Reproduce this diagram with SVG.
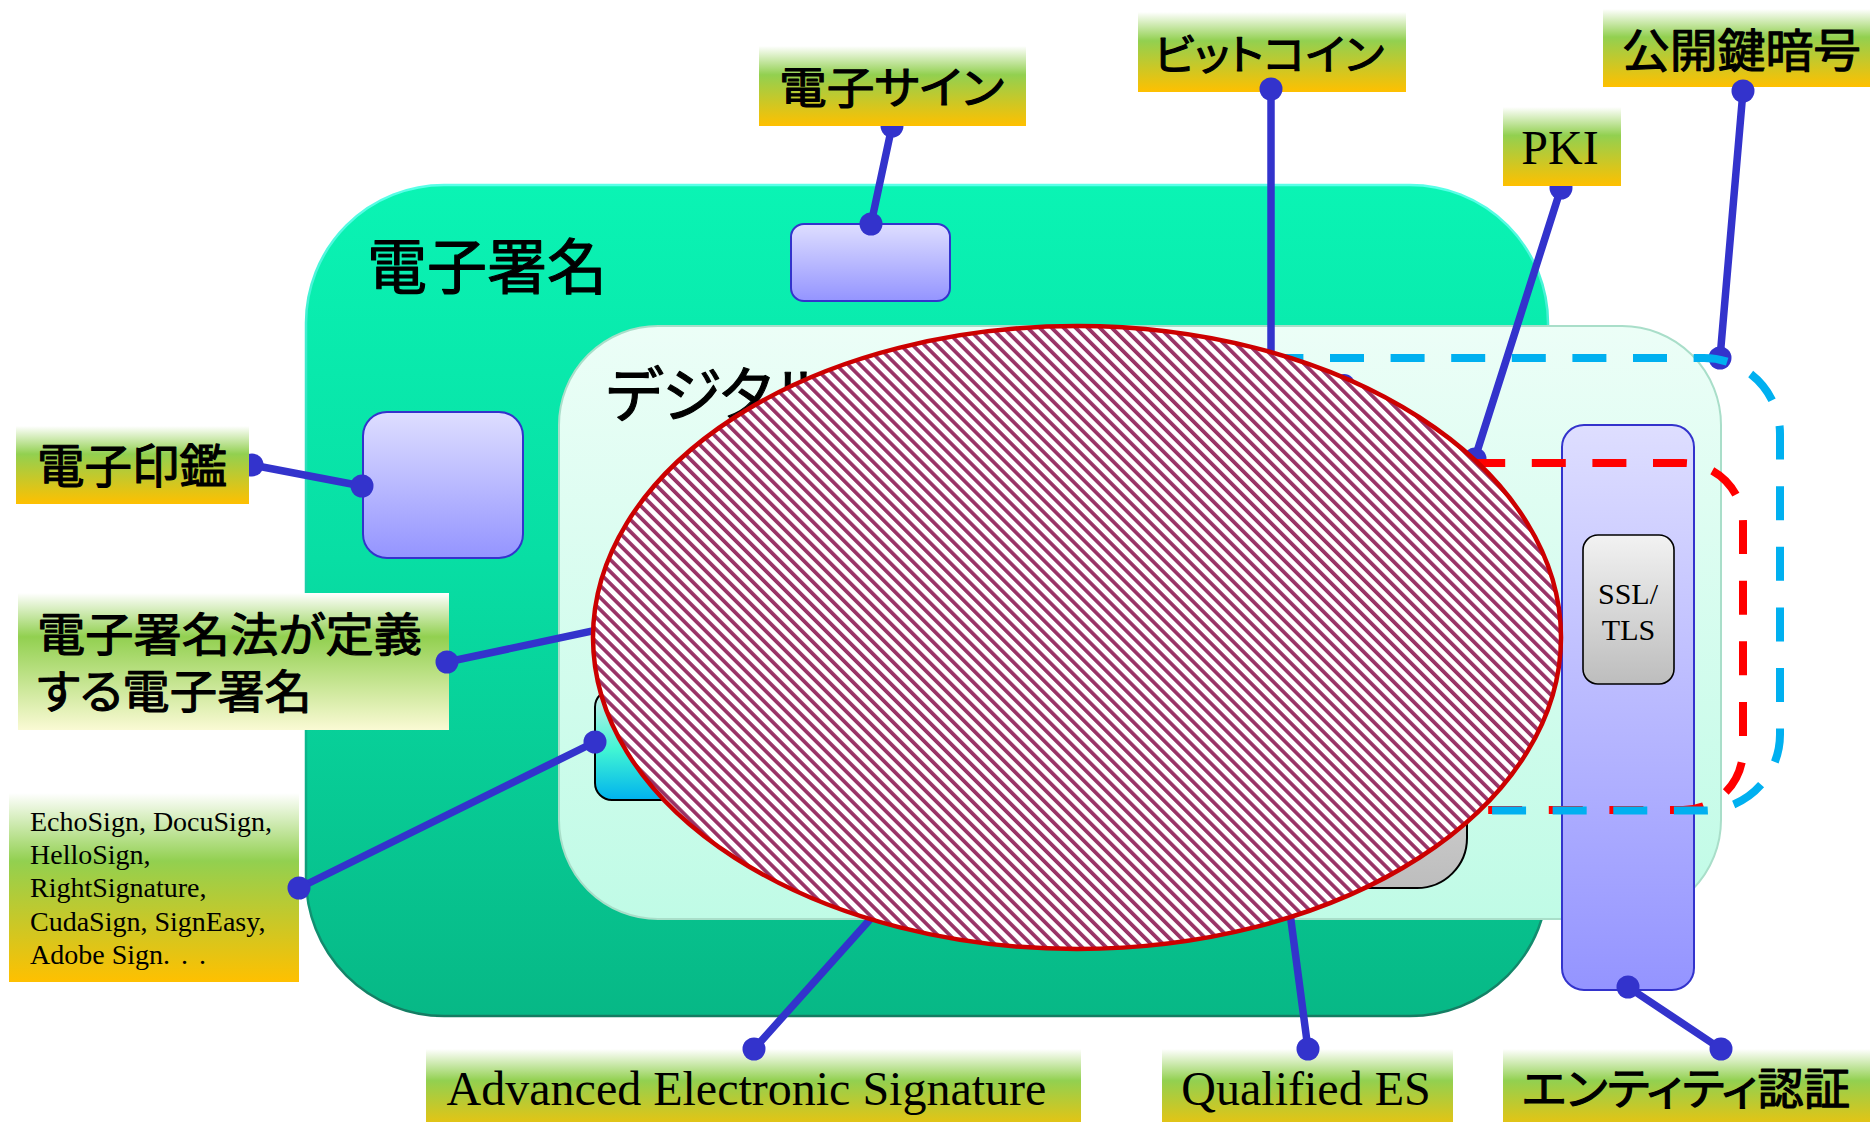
<svg xmlns="http://www.w3.org/2000/svg" width="1870" height="1122" viewBox="0 0 1870 1122">
<defs>
  <linearGradient id="gGreen" x1="0" y1="0" x2="0" y2="1">
    <stop offset="0" stop-color="#0AF4B4"/>
    <stop offset="0.45" stop-color="#08DEA4"/>
    <stop offset="1" stop-color="#07B886"/>
  </linearGradient>
  <linearGradient id="gGreenEdge" x1="0" y1="0" x2="0" y2="1">
    <stop offset="0" stop-color="#5AFFE8"/>
    <stop offset="0.6" stop-color="#07C596"/>
    <stop offset="1" stop-color="#157C62"/>
  </linearGradient>
  <linearGradient id="gLight" x1="0" y1="0" x2="0" y2="1">
    <stop offset="0" stop-color="#ECFEF7"/>
    <stop offset="1" stop-color="#C0FBE6"/>
  </linearGradient>
  <linearGradient id="gLav" x1="0" y1="0" x2="0" y2="1">
    <stop offset="0" stop-color="#DEDEFF"/>
    <stop offset="1" stop-color="#9494FF"/>
  </linearGradient>
  <linearGradient id="gGray" x1="0" y1="0" x2="0" y2="1">
    <stop offset="0" stop-color="#F2F2F2"/>
    <stop offset="1" stop-color="#BDBDBD"/>
  </linearGradient>
  <linearGradient id="gCyan" x1="0" y1="0" x2="0" y2="1">
    <stop offset="0" stop-color="#CFEFEA"/>
    <stop offset="0.55" stop-color="#40F4D4"/>
    <stop offset="1" stop-color="#00B2EE"/>
  </linearGradient>
  <linearGradient id="gLabel" x1="0" y1="0" x2="0" y2="1">
    <stop offset="0" stop-color="#FFFFFF"/>
    <stop offset="0.36" stop-color="#92D050"/>
    <stop offset="1" stop-color="#FFC000"/>
  </linearGradient>
  <linearGradient id="gLabelPale" x1="0" y1="0" x2="0" y2="1">
    <stop offset="0" stop-color="#FFFFFF"/>
    <stop offset="0.32" stop-color="#92D050"/>
    <stop offset="1" stop-color="#FAFAD4"/>
  </linearGradient>
  <pattern id="hatch" patternUnits="userSpaceOnUse" width="8.5" height="8.5" patternTransform="rotate(-45)">
    <rect width="8.5" height="8.5" fill="#FFFFFF"/>
    <rect width="3.7" height="8.5" fill="#993366"/>
  </pattern>
  <style>
    .jp { font-family: "Liberation Sans", "Noto Sans CJK JP", "Noto Sans CJK SC", sans-serif; font-weight: 400; fill: #000; stroke: #000; stroke-width: 1.1; stroke-linejoin: round; font-feature-settings: "palt"; }
    .rm { font-family: "Liberation Serif", "Times New Roman", serif; fill: #000; }
    .lab { fill: url(#gLabel); }
    .lav { fill: url(#gLav); stroke: #3333CC; stroke-width: 2; }
    .conn line { stroke: #3333CC; stroke-width: 7.5; stroke-linecap: round; }
    .conn circle { fill: #3333CC; }
    .dash { fill: none; stroke-width: 8; stroke-dasharray: 34 26.6; }
  </style>
</defs>

<rect width="1870" height="1122" fill="#FFFFFF"/>

<!-- outer: 電子署名 -->
<g id="esig">
  <rect x="306" y="185" width="1242" height="831" rx="138" ry="138" fill="url(#gGreen)" stroke="url(#gGreenEdge)" stroke-width="2.5"/>
  <text class="jp" x="367" y="289" font-size="60">電子署名</text>
</g>

<g id="box-esign-target">
  <rect class="lav" x="791" y="224" width="159" height="77" rx="13" ry="13"/>
</g>

<g id="box-seal-target">
  <rect class="lav" x="363" y="412" width="160" height="146" rx="24" ry="24"/>
</g>

<!-- inner: デジタル署名 -->
<g id="digsig">
  <rect x="559" y="326" width="1162" height="593" rx="99" ry="99" fill="url(#gLight)" stroke="#A9DEC9" stroke-width="2"/>
  <text class="jp" x="606" y="417" font-size="60">デジタル署名</text>
</g>

<g id="box-advanced">
  <rect x="595" y="690" width="300" height="110" rx="17" ry="17" fill="url(#gCyan)" stroke="#000" stroke-width="2"/>
</g>

<g id="box-qualified">
  <rect x="1000" y="588" width="467" height="300" rx="50" ry="50" fill="url(#gGray)" stroke="#000" stroke-width="2"/>
</g>

<g id="entity-auth">
  <rect class="lav" x="1562" y="425" width="132" height="565" rx="22" ry="22"/>
</g>

<g id="ssl-tls">
  <rect x="1583" y="535" width="91" height="149" rx="15" ry="15" fill="url(#gGray)" stroke="#000" stroke-width="1.6"/>
  <text class="rm" font-size="30" text-anchor="middle"><tspan x="1628" y="604">SSL/</tspan><tspan x="1628.5" y="640">TLS</tspan></text>
</g>

<!-- labels drawn beneath connector dots -->
<g id="lbl-bitcoin">
  <rect class="lab" x="1138" y="12" width="268" height="80"/>
  <text class="jp" x="1269" y="70" font-size="42" text-anchor="middle" textLength="230" lengthAdjust="spacingAndGlyphs">ビットコイン</text>
</g>
<g id="lbl-pubkey">
  <rect class="lab" x="1603" y="9" width="267" height="78"/>
  <text class="jp" x="1741.5" y="67" font-size="46" text-anchor="middle" textLength="239" lengthAdjust="spacingAndGlyphs">公開鍵暗号</text>
</g>
<g id="lbl-law">
  <rect x="18" y="593" width="431" height="137" fill="url(#gLabelPale)"/>
  <text class="jp" font-size="46"><tspan x="37" y="651" textLength="385" lengthAdjust="spacingAndGlyphs">電子署名法が定義</tspan><tspan x="37" y="708" textLength="275" lengthAdjust="spacingAndGlyphs">する電子署名</tspan></text>
</g>
<g id="lbl-services">
  <rect class="lab" x="9" y="793" width="290" height="189"/>
  <text class="rm" font-size="28"><tspan x="30" y="831">EchoSign, DocuSign,</tspan><tspan x="30" y="864">HelloSign,</tspan><tspan x="30" y="897">RightSignature,</tspan><tspan x="30" y="930.5">CudaSign, SignEasy,</tspan><tspan x="30" y="964">Adobe Sign.</tspan><tspan dx="4"> .</tspan><tspan dx="4"> .</tspan></text>
</g>
<g id="lbl-advanced">
  <rect class="lab" x="426" y="1049" width="655" height="88"/>
  <text class="rm" x="746.5" y="1105" font-size="48" text-anchor="middle">Advanced Electronic Signature</text>
</g>
<g id="lbl-qualified">
  <rect class="lab" x="1162" y="1049" width="291" height="88"/>
  <text class="rm" x="1306" y="1105" font-size="48" text-anchor="middle">Qualified ES</text>
</g>
<g id="lbl-entity">
  <rect class="lab" x="1503" y="1049" width="367" height="88"/>
  <text class="jp" x="1686" y="1105" font-size="44" text-anchor="middle" textLength="328" lengthAdjust="spacingAndGlyphs">エンティティ認証</text>
</g>

<!-- connectors -->
<g id="connectors" class="conn">
  <line x1="892" y1="126" x2="871" y2="224"/>
  <circle cx="892" cy="126" r="11.5"/>
  <circle cx="871" cy="224" r="11.5"/>

  <line x1="252" y1="465" x2="362" y2="486"/>
  <circle cx="252" cy="465" r="11.5"/>
  <circle cx="362" cy="486" r="11.5"/>

  <line x1="447" y1="662" x2="700" y2="608"/>
  <circle cx="447" cy="662" r="11.5"/>

  <line x1="299" y1="888" x2="595" y2="742"/>
  <circle cx="299" cy="888" r="11.5"/>
  <circle cx="595" cy="742" r="11.5"/>

  <line x1="754" y1="1049" x2="925" y2="858"/>
  <circle cx="754" cy="1049" r="11.5"/>

  <line x1="1308" y1="1049" x2="1283" y2="860"/>
  <circle cx="1308" cy="1049" r="11.5"/>

  <line x1="1271" y1="89" x2="1271" y2="400"/>
  <circle cx="1271" cy="89" r="11.5"/>

  <line x1="1561" y1="188" x2="1475" y2="458"/>
  <circle cx="1561" cy="188" r="11.5"/>
  <circle cx="1475" cy="459" r="11.5"/>

  <line x1="1743" y1="91" x2="1720" y2="358"/>
  <circle cx="1743" cy="91" r="11.5"/>
  <circle cx="1720" cy="358" r="11.5"/>

  <line x1="1628" y1="987" x2="1721" y2="1049"/>
  <circle cx="1628" cy="987" r="11.5"/>
  <circle cx="1721" cy="1049" r="11.5"/>

  <circle cx="1344" cy="385" r="11"/>
</g>

<!-- dashed regions -->
<g id="pki-region">
  <rect class="dash" x="1047.6" y="463" width="695.4" height="347" rx="60" ry="60" stroke="#FF0000"/>
</g>
<g id="pubkey-region">
  <rect class="dash" x="1011.6" y="358" width="768.4" height="452.5" rx="76" ry="76" stroke="#00B0F0"/>
</g>

<!-- hatched ellipse -->
<g id="hatched-ellipse">
  <ellipse cx="1077" cy="637.5" rx="484" ry="311.5" fill="url(#hatch)" stroke="#CC0000" stroke-width="4.5"/>
</g>

<!-- labels drawn over connector dots -->
<g id="lbl-esign">
  <rect class="lab" x="759" y="46" width="267" height="80"/>
  <text class="jp" x="891.5" y="104" font-size="44" text-anchor="middle" textLength="225" lengthAdjust="spacingAndGlyphs">電子サイン</text>
</g>
<g id="lbl-seal">
  <rect class="lab" x="16" y="426" width="233" height="78"/>
  <text class="jp" x="132" y="483" font-size="47" text-anchor="middle" textLength="190" lengthAdjust="spacingAndGlyphs">電子印鑑</text>
</g>
<g id="lbl-pki">
  <rect class="lab" x="1503" y="107" width="118" height="79"/>
  <text class="rm" x="1560" y="164" font-size="48" text-anchor="middle">PKI</text>
</g>
</svg>
